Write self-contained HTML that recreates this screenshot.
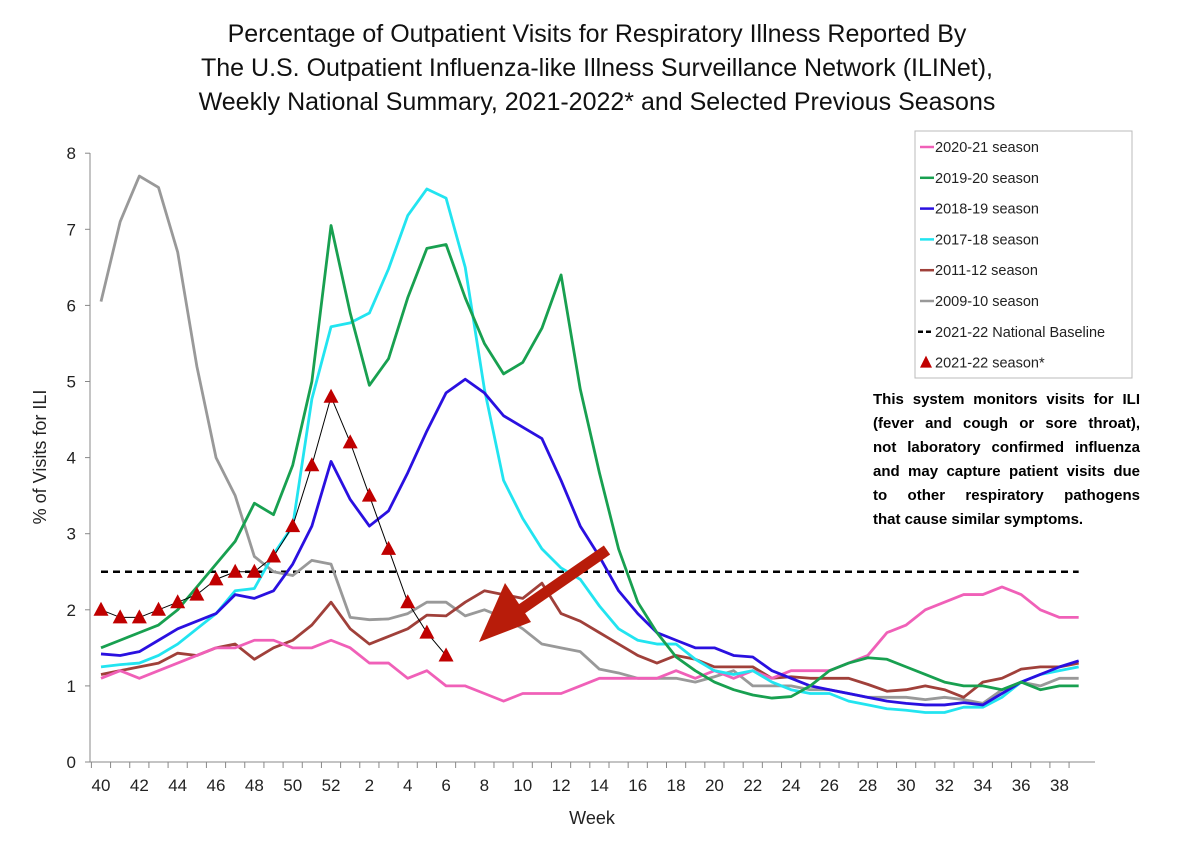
<!DOCTYPE html>
<html><head><meta charset="utf-8"><style>
body{margin:0;background:#fff;width:1200px;height:848px;overflow:hidden;font-family:"Liberation Sans",sans-serif}
svg{position:absolute;left:0;top:0}
#note{position:absolute;left:873px;top:388px;width:267px;font:bold 15px/24px "Liberation Sans",sans-serif;color:#000}
#note div{text-align:justify;text-align-last:justify;white-space:nowrap}
#note div.last{text-align-last:left}
</style></head><body>
<svg id="chart" width="1200" height="848"></svg>
<div id="note"><div>This system monitors visits for ILI</div><div>(fever and cough or sore throat),</div><div>not laboratory confirmed influenza</div><div>and may capture patient visits due</div><div>to other respiratory pathogens</div><div class="last">that cause similar symptoms.</div></div>
<script>
const weekLabels=[40,41,42,43,44,45,46,47,48,49,50,51,52,1,2,3,4,5,6,7,8,9,10,11,12,13,14,15,16,17,18,19,20,21,22,23,24,25,26,27,28,29,30,31,32,33,34,35,36,37,38,39];
const yTicks=[0,1,2,3,4,5,6,7,8];
const s2020=[1.1,1.2,1.1,1.2,1.3,1.4,1.5,1.5,1.6,1.6,1.5,1.5,1.6,1.5,1.3,1.3,1.1,1.2,1.0,1.0,0.9,0.8,0.9,0.9,0.9,1.0,1.1,1.1,1.1,1.1,1.2,1.1,1.2,1.1,1.2,1.1,1.2,1.2,1.2,1.3,1.4,1.7,1.8,2.0,2.1,2.2,2.2,2.3,2.2,2.0,1.9,1.9];
const s2019=[1.5,1.6,1.7,1.8,2.0,2.3,2.6,2.9,3.4,3.25,3.9,5.0,7.05,5.9,4.95,5.3,6.1,6.75,6.8,6.1,5.5,5.1,5.25,5.7,6.4,4.9,3.8,2.8,2.1,1.7,1.38,1.2,1.05,0.95,0.88,0.84,0.86,1.0,1.2,1.3,1.37,1.35,1.25,1.15,1.05,1.0,1.0,0.95,1.05,0.95,1.0,1.0];
const s2018=[1.42,1.4,1.45,1.6,1.75,1.85,1.95,2.2,2.15,2.25,2.6,3.1,3.95,3.45,3.1,3.3,3.8,4.35,4.85,5.03,4.85,4.55,4.4,4.25,3.7,3.1,2.7,2.25,1.95,1.7,1.6,1.5,1.5,1.4,1.38,1.2,1.1,1.0,0.95,0.9,0.85,0.8,0.77,0.75,0.75,0.78,0.75,0.9,1.05,1.15,1.25,1.33];
const s2017=[1.25,1.28,1.3,1.4,1.55,1.75,1.95,2.25,2.28,2.73,3.1,4.77,5.72,5.77,5.9,6.48,7.18,7.53,7.41,6.5,4.9,3.7,3.2,2.8,2.55,2.4,2.05,1.75,1.6,1.55,1.55,1.35,1.2,1.15,1.2,1.05,0.95,0.9,0.9,0.8,0.75,0.7,0.68,0.65,0.65,0.72,0.72,0.85,1.05,1.15,1.2,1.25];
const s2011=[1.15,1.2,1.25,1.3,1.43,1.4,1.5,1.55,1.35,1.5,1.6,1.8,2.1,1.75,1.55,1.65,1.75,1.93,1.92,2.1,2.25,2.2,2.15,2.35,1.95,1.85,1.7,1.55,1.4,1.3,1.4,1.35,1.25,1.25,1.25,1.1,1.12,1.1,1.1,1.1,1.02,0.93,0.95,1.0,0.95,0.85,1.05,1.1,1.22,1.25,1.25,1.3];
const s2009=[6.05,7.1,7.7,7.55,6.7,5.2,4.0,3.5,2.7,2.5,2.45,2.65,2.6,1.9,1.87,1.88,1.95,2.1,2.1,1.92,2.0,1.9,1.75,1.55,1.5,1.45,1.22,1.17,1.1,1.1,1.1,1.05,1.12,1.2,1.0,1.0,1.0,0.95,0.95,0.9,0.85,0.85,0.85,0.82,0.85,0.82,0.77,0.95,1.05,1.0,1.1,1.1];
const s2021=[2.0,1.9,1.9,2.0,2.1,2.2,2.4,2.5,2.5,2.7,3.1,3.9,4.8,4.2,3.5,2.8,2.1,1.7,1.4];
const baseline=2.5;
const NS="http://www.w3.org/2000/svg";
const svg=document.getElementById('chart');
const X=i=>101+19.17*i, Y=v=>762-76.1*v;
function mk(t,a,p){const e=document.createElementNS(NS,t);for(const k in a)e.setAttribute(k,a[k]);(p||svg).appendChild(e);return e;}
const title=mk('text',{x:597,'text-anchor':'middle','font-size':25,fill:'#111'});


['Percentage of Outpatient Visits for Respiratory Illness Reported By','The U.S. Outpatient Influenza-like Illness Surveillance Network (ILINet),','Weekly National Summary, 2021-2022* and Selected Previous Seasons'].forEach((s,k)=>{const t=mk('tspan',{x:597,y:42+34*k},title);t.textContent=s;});
const ax=mk('path',{d:'M90,153V762H1095',stroke:'#888',fill:'none','stroke-width':1});


yTicks.forEach(v=>{mk('line',{x1:85,x2:90,y1:Y(v),y2:Y(v),stroke:'#888'});
const t=mk('text',{x:76,y:Y(v)+6,'text-anchor':'end','font-size':17,fill:'#222'});t.textContent=v;

});
weekLabels.forEach((w,i)=>{mk('line',{x1:X(i)-9.6,x2:X(i)-9.6,y1:762,y2:768,stroke:'#888'});
if(i%2===0){const t=mk('text',{x:X(i),y:791,'text-anchor':'middle','font-size':17,fill:'#222'});t.textContent=w;

}});
const xt=mk('text',{x:592,y:824,'text-anchor':'middle','font-size':18,fill:'#222'});xt.textContent='Week';


const yt=mk('text',{x:0,y:0,'text-anchor':'middle','font-size':18,fill:'#222',transform:'translate(46,457) rotate(-90)'});yt.textContent='% of Visits for ILI';


const bl=mk('line',{x1:X(0),x2:X(51),y1:Y(baseline),y2:Y(baseline),stroke:'#000','stroke-width':2.5,'stroke-dasharray':'7,5'});


const series=[[s2009,'#999999','2009-10'],[s2011,'#a0403a','2011-12'],[s2020,'#f060b8','2020-21'],[s2017,'#22e4f0','2017-18'],[s2018,'#2a10e0','2018-19'],[s2019,'#18a050','2019-20']];
series.forEach(([d,c,n])=>{const p=mk('polyline',{points:d.map((v,i)=>X(i)+','+Y(v)).join(' '),fill:'none',stroke:c,'stroke-width':2.8,'stroke-linejoin':'round'});

});
const l21=mk('polyline',{points:s2021.map((v,i)=>X(i)+','+Y(v)).join(' '),fill:'none',stroke:'#000','stroke-width':1});


s2021.forEach((v,i)=>{const x=X(i),y=Y(v);const t=mk('polygon',{points:`${x},${y-8} ${x-7.5},${y+6} ${x+7.5},${y+6}`,fill:'#c00000'});

});
const ar=mk('g',{});


mk('line',{x1:607,y1:550,x2:510,y2:617,stroke:'#b81c0a','stroke-width':11},ar);
mk('polygon',{points:'479,642 505,583 531,622',fill:'#b81c0a'},ar);
const lg=mk('g',{});


mk('rect',{x:915,y:131,width:217,height:247,fill:'#fff',stroke:'#bbb'},lg);
const leg=[['2020-21 season','#f060b8','l'],['2019-20 season','#18a050','l'],['2018-19 season','#2a10e0','l'],['2017-18 season','#22e4f0','l'],['2011-12 season','#a0403a','l'],['2009-10 season','#999999','l'],['2021-22 National Baseline','#000','d'],['2021-22 season*','#c00000','t']];
leg.forEach(([s,c,k],j)=>{const y=147+30.8*j;const g=mk('g',{},lg);


if(k==='l')mk('line',{x1:920,x2:934,y1:y,y2:y,stroke:c,'stroke-width':2.5},g);
if(k==='d')mk('line',{x1:918,x2:934,y1:y,y2:y,stroke:c,'stroke-width':2.5,'stroke-dasharray':'5,3'},g);
if(k==='t')mk('polygon',{points:`926,${y-7} 920,${y+5} 932,${y+5}`,fill:c},g);
const t=mk('text',{x:935,y:y+5,'font-size':14.5,fill:'#222'},g);t.textContent=s;});
</script>
</body></html>
